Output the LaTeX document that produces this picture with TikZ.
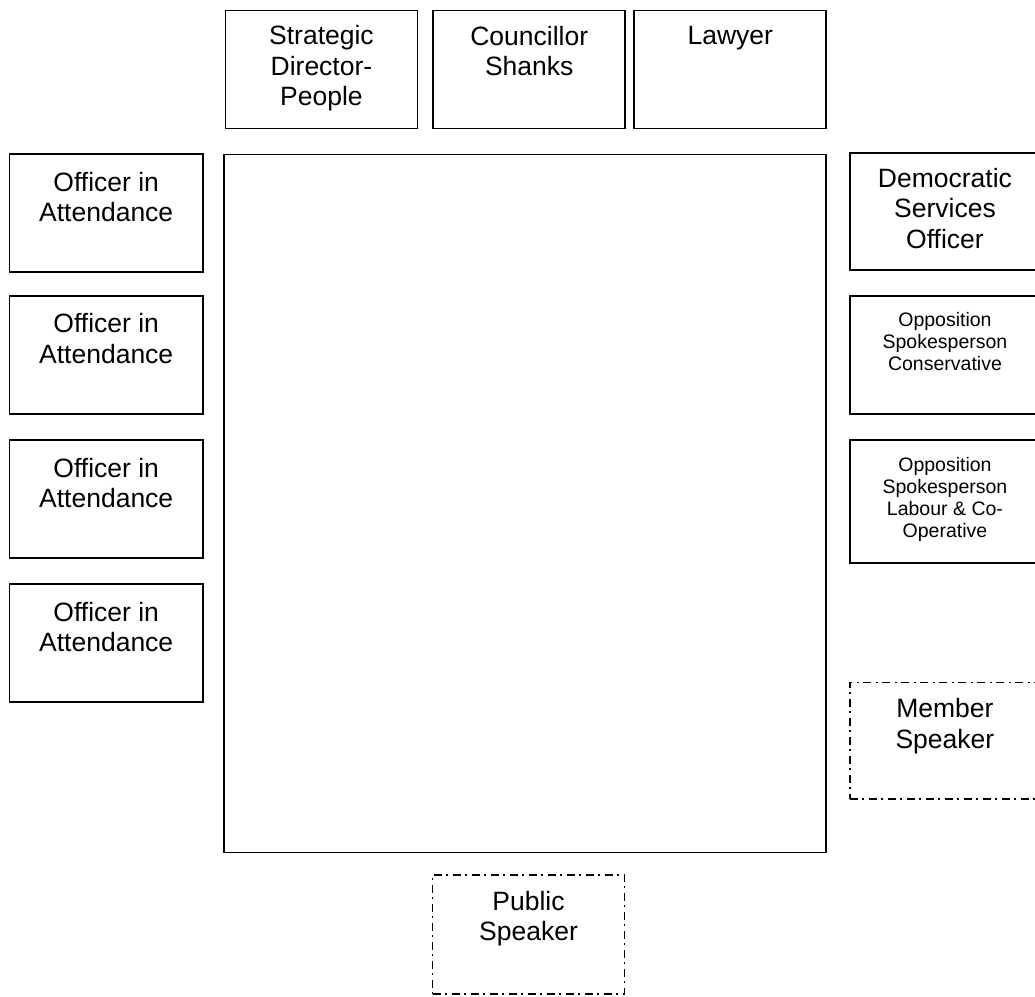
\documentclass[tikz,border=0pt]{standalone}
\usepackage{fontspec}
\setmainfont{Liberation Sans}
\usetikzlibrary{positioning}
\begin{document}
\begin{tikzpicture}[x=1pt, y=-1pt,
    seat/.style={draw, line width=1.9pt, anchor=north west, minimum width=192pt, minimum height=118pt, inner sep=0pt},
    guest/.style={seat, line width=1.7pt, dash pattern=on 8pt off 4.5pt on 2pt off 4.5pt},
    seattext/.style={align=center, inner sep=0pt, font=\fontsize{26.5}{30.5}\selectfont},
    smalltext/.style={align=center, inner sep=0pt, font=\fontsize{19.5}{22}\selectfont}
]
    \useasboundingbox (0,0) rectangle (1035,996);

    % Table in the middle
    \node[seat, minimum width=602pt, minimum height=698pt] (table) at (222.7,153.5) {};

    % Top row
    \node[seat] (director) at (224.5,9.5) {};
    \node[seattext, below=16pt of director.north] (directortext) {Strategic\\Director-\\People};
    \node[seat] (shanks) at (432.3,9.5) {};
    \node[seattext, below=16.5pt of shanks.north] (shankstext) {Councillor\\Shanks};
    \node[seat] (lawyer) at (633.3,9.5) {};
    \node[seattext, below=16.5pt of lawyer.north] (lawyertext) {Lawyer};

    % Officers on the left
    \node[seat, minimum width=193.5pt] (officerA) at (8.5,153.3) {};
    \node[seattext, below=18.5pt of officerA.north] (officerAtext) {Officer in\\Attendance};
    \node[seat, minimum width=193.5pt] (officerB) at (8.5,295) {};
    \node[seattext, below=18.5pt of officerB.north] (officerBtext) {Officer in\\Attendance};
    \node[seat, minimum width=193.5pt] (officerC) at (8.5,439.3) {};
    \node[seattext, below=18.5pt of officerC.north] (officerCtext) {Officer in\\Attendance};
    \node[seat, minimum width=193.5pt] (officerD) at (8.5,583.3) {};
    \node[seattext, below=18.5pt of officerD.north] (officerDtext) {Officer in\\Attendance};

    % Right side
    \node[seat, minimum width=190pt, minimum height=117.5pt] (democratic) at (849,151.7) {};
    \node[seattext, below=16pt of democratic.north] (democratictext) {Democratic\\Services\\Officer};
    \node[seat, minimum width=190pt] (conservative) at (849,295) {};
    \node[smalltext, below=17.5pt of conservative.north] (conservativetext) {Opposition\\Spokesperson\\Conservative};
    \node[seat, minimum width=190pt, minimum height=122.4pt] (labour) at (849,439.3) {};
    \node[smalltext, below=17.5pt of labour.north] (labourtext) {Opposition\\Spokesperson\\Labour \& Co-\\Operative};

    % Speakers
    \node[guest, minimum width=190pt, minimum height=116.6pt] (member) at (849,681.7) {};
    \node[seattext, below=16.5pt of member.north] (membertext) {Member\\Speaker};
    \node[guest, minimum height=119pt] (public) at (431.7,874) {};
    \node[seattext, below=17pt of public.north] (publictext) {Public\\Speaker};
\end{tikzpicture}
\end{document}
